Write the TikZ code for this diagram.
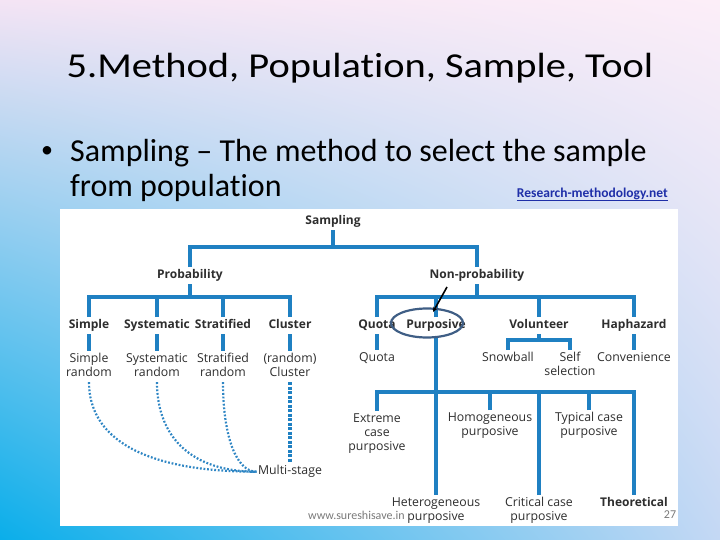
\documentclass[tikz,border=0pt]{standalone}
\usepackage{fontspec}
\setmainfont{Carlito}[Ligatures=NoCommon]
\newfontfamily\osans{Open Sans}
\usetikzlibrary{shapes.geometric,arrows.meta,shadings}
\definecolor{treeblue}{HTML}{1F80C2}
\definecolor{dotblue}{HTML}{2F86C4}
\definecolor{txtgray}{HTML}{2E2E2E}
\definecolor{ringcol}{HTML}{3F5E85}
\definecolor{linkblue}{HTML}{1F2FA8}
\definecolor{footgray}{HTML}{7A7A7A}
\definecolor{bgUL}{HTML}{F4E4F4}
\definecolor{bgUR}{HTML}{FCEEF8}
\definecolor{bgLL}{HTML}{0AAEEA}
\definecolor{bgLR}{HTML}{C4D8F4}
\newcommand\hdrf{\osans\bfseries\fontsize{12}{14}\selectfont}
\newcommand\leaff{\osans\fontsize{12.3}{14}\selectfont}
\begin{document}
\begin{tikzpicture}[x=1pt,y=-1pt,
  hdr/.style={font=\hdrf, text=txtgray, align=center, inner sep=0pt, outer sep=1.5pt, anchor=north},
  leaf/.style={font=\leaff, text=txtgray, align=center, inner sep=0pt, outer sep=1.5pt, anchor=north},
  tree/.style={draw=treeblue, line width=3.5pt},
  dots/.style={draw=dotblue, line width=2.2pt, dash pattern=on 1.8pt off 1.8pt},
  dashbox/.style={draw=treeblue, line width=3.5pt, dash pattern=on 3pt off 1.5pt},
  ring/.style={draw=ringcol, line width=2.2pt, ellipse, inner sep=0pt},
  pointer/.style={draw=black, line width=1.6pt, -{Stealth[length=5pt,width=4.5pt]}}
]
\useasboundingbox (0,0) rectangle (720,540);
\shade[upper left=bgUL, upper right=bgUR, lower left=bgLL, lower right=bgLR] (0,0) rectangle (720,540);
\fill[white] (60,209) rectangle (678,526);

% slide texts
\node[anchor=base, font=\fontsize{35}{40}\selectfont, text=black] (title) at (360,77.3) {\scalebox{1.155}[1]{5.Method, Population, Sample, Tool}};
\node[anchor=base, font=\fontsize{24}{28}\selectfont, text=black] (bul) at (47,158) {•};
\node[anchor=base west, font=\fontsize{32}{36}\selectfont, text=black, inner sep=0pt] (bl1) at (70,161.5) {Sampling – The method to select the sample};
\node[anchor=base west, font=\fontsize{32}{36}\selectfont, text=black, inner sep=0pt] (bl2) at (70,196.5) {from population};
\node[anchor=base east, font=\bfseries\fontsize{13.5}{16}\selectfont, text=linkblue, inner sep=0pt] (link) at (668,197) {\underline{Research-methodology.net}};

% headers
\node[hdr] (samp) at (333,213.2) {\strut Sampling};
\node[hdr] (prob) at (190,267.2) {\strut Probability};
\node[hdr] (nonp) at (477,267.2) {\strut Non-probability};
\node[hdr] (simple) at (89,317.2) {\strut Simple};
\node[hdr] (syst) at (157,317.2) {\strut Systematic};
\node[hdr] (strat) at (223,317.2) {\strut Stratified};
\node[hdr] (clus) at (290,317.2) {\strut Cluster};
\node[hdr] (quota) at (377,317.2) {\strut Quota};
\node[hdr] (purp) at (436,317.2) {\strut Purposive};
\node[hdr] (vol) at (539,317.2) {\strut Volunteer};
\node[hdr] (hap) at (634,317.2) {\strut Haphazard};
\node[hdr] (theo) at (634,495.2) {\strut Theoretical};

% leaves
\node[leaf] (sr) at (89,351.2) {\strut Simple\\random\strut};
\node[leaf] (sysr) at (157,351.2) {\strut Systematic\\random\strut};
\node[leaf] (str) at (223,351.2) {\strut Stratified\\random\strut};
\node[leaf] (rc) at (290,351.2) {\strut (random)\\Cluster\strut};
\node[leaf] (quota2) at (377,350.2) {\strut Quota};
\node[leaf] (snow) at (508,350.2) {\strut Snowball};
\node[leaf] (self) at (570,350.2) {\strut Self\\selection\strut};
\node[leaf] (conv) at (634,350.2) {\strut Convenience};
\node[leaf] (ext) at (377,411.2) {\strut Extreme\\case\\purposive\strut};
\node[leaf] (homo) at (490,410.2) {\strut Homogeneous\\purposive\strut};
\node[leaf] (typ) at (589,410.2) {\strut Typical case\\purposive\strut};
\node[leaf] (het) at (436,495.2) {\strut Heterogeneous\\purposive\strut};
\node[leaf] (crit) at (539,495.2) {\strut Critical case\\purposive\strut};
\node[leaf] (multi) at (290,463.2) {\strut Multi-stage};

% footer
\node[anchor=west, font=\fontsize{12}{14}\selectfont, text=footgray, inner sep=0pt] (web) at (308,515) {www.sureshisave.in};
\node[font=\fontsize{12}{14}\selectfont, text=footgray, inner sep=0pt] (pg) at (670,515) {27};

% junctions
\coordinate (j0) at (333,247);
\coordinate (j1) at (190,297);
\coordinate (j2) at (477,297);
\coordinate (j3) at (539,340);
\coordinate (j4) at (436,392);

% tree connectors
\draw[tree] (samp.south) -- (j0);
\draw[tree] (prob.north) |- (j0) -| (nonp.north);
\draw[tree] (prob.south) -- (j1);
\draw[tree] (simple.north) |- (j1) -| (clus.north);
\draw[tree] (syst.north) -- (syst.north |- j1);
\draw[tree] (strat.north) -- (strat.north |- j1);
\draw[tree] (nonp.south) -- (j2);
\draw[tree] (quota.north) |- (j2) -| (hap.north);
\draw[tree] (purp.north) -- (purp.north |- j2);
\draw[tree] (vol.north) -- (vol.north |- j2);
\draw[tree] (simple.south) -- (sr.north);
\draw[tree] (syst.south) -- (sysr.north);
\draw[tree] (strat.south) -- (str.north);
\draw[tree] (clus.south) -- (rc.north);
\draw[tree] (quota.south) -- (quota2.north);
\draw[tree] (hap.south) -- (conv.north);
\draw[tree] (vol.south) -- (j3);
\draw[tree] (snow.north) |- (j3) -| (self.north);
\draw[tree, shorten <=3pt] (purp.south) -- (het.north);
\draw[tree] (ext.north) |- (j4) -| (theo.north);
\draw[tree] (homo.north) -- (homo.north |- j4);
\draw[tree] (typ.north) -- (typ.north |- j4);
\draw[tree] (crit.north) -- (crit.north |- j4);

% multi-stage links
\draw[dots] (sr.south) .. controls +(0,55) and +(-115,0) .. (multi.west);
\draw[dots] (sysr.south) .. controls +(0,55) and +(-65,0) .. (multi.west);
\draw[dots] (str.south) .. controls +(0,55) and +(-20,0) .. (multi.west);
\draw[dashbox] (rc.south) -- (multi.north);

% highlight
\node[ring, minimum width=72pt, minimum height=29pt] (hl) at (427,323) {};
\coordinate (atail) at (447,287);
\coordinate (ahead) at (433,312);
\draw[pointer] (atail) -- (ahead);
\end{tikzpicture}
\end{document}
